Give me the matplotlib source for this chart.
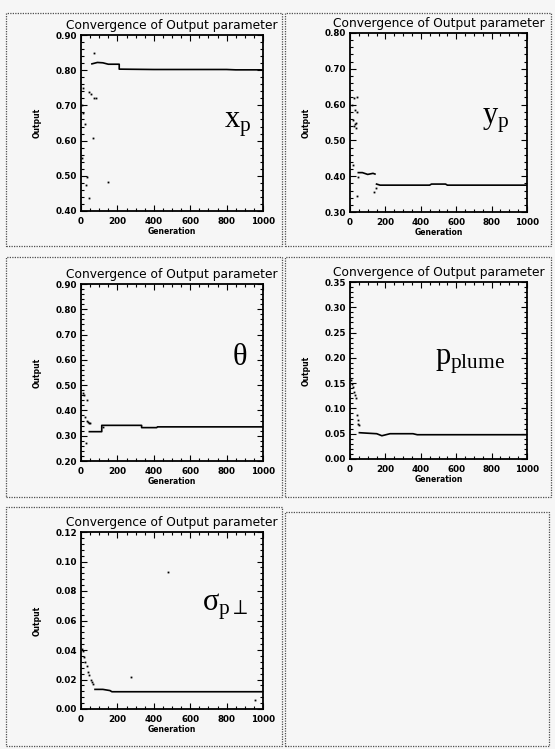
import matplotlib
matplotlib.use("Agg")
import matplotlib.pyplot as plt
import numpy as np
from matplotlib.patches import Rectangle
from matplotlib.ticker import MultipleLocator, AutoMinorLocator

# upright serif symbols like the reference labels
plt.rcParams['mathtext.fontset'] = 'custom'
plt.rcParams['mathtext.rm'] = 'Liberation Serif'
plt.rcParams['mathtext.it'] = 'Liberation Serif'
plt.rcParams['mathtext.fallback'] = 'stix'

W, H = 555, 749
BG = '#f6f6f6'
nan = np.nan

# ---- data ----
# x_p
xp_scatter_gen = [5, 8, 10, 13, 22, 26, 31, 44, 44, 53, 64, 71, 71, 82, 150]
xp_scatter_val = [0.70, 0.55, 0.678, 0.749, 0.647, 0.474, 0.497, 0.739, 0.436,
                  0.731, 0.607, 0.85, 0.72, 0.72, 0.482]
xp_line_gen = [60, 90, 120, 150, 210, 210, 400, 600, 800, 850, 1000]
xp_line_val = [0.818, 0.822, 0.821, 0.817, 0.817, 0.803, 0.802, 0.802, 0.802, 0.801, 0.801]

# y_p
yp_scatter_gen = [9, 17, 19, 23, 28, 30, 34, 38, 41, 41, 47, 136, 145, 20, 36]
yp_scatter_val = [0.599, 0.557, 0.431, 0.618, 0.585, 0.545, 0.535, 0.622, 0.58,
                  0.346, 0.397, 0.357, 0.366, 0.54, 0.55]
yp_line_gen = [47, 70, 100, 130, 141, nan, 150, 170, 200, 450, 460, 540, 550, 800, 1000]
yp_line_val = [0.41, 0.41, 0.405, 0.408, 0.406, nan, 0.378, 0.375, 0.375, 0.375, 0.378,
               0.378, 0.375, 0.375, 0.375]

# theta
th_scatter_gen = [13, 19, 22, 27, 31, 35, 40, 45, 49, 123]
th_scatter_val = [0.469, 0.46, 0.375, 0.27, 0.441, 0.36, 0.355, 0.349, 0.35, 0.336]
th_line_gen = [46, 114, 114, 333, 333, 416, 420, 1000]
th_line_val = [0.316, 0.316, 0.341, 0.341, 0.332, 0.332, 0.335, 0.335]

# p_plume
pp_scatter_gen = [6, 12, 19, 24, 28, 32, 38, 43, 47, 51]
pp_scatter_val = [0.156, 0.148, 0.143, 0.133, 0.127, 0.12, 0.087, 0.077, 0.07, 0.067]
pp_line_gen = [53, 100, 151, 180, 226, 356, 380, 1000]
pp_line_val = [0.052, 0.051, 0.050, 0.046, 0.050, 0.050, 0.048, 0.048]

# sigma_p_perp
sp_scatter_gen = [4, 9, 16, 22, 31, 40, 46, 53, 59, 68, 273, 480, 956]
sp_scatter_val = [0.041, 0.039, 0.035, 0.032, 0.029, 0.025, 0.023, 0.020, 0.018,
                  0.017, 0.022, 0.093, 0.006]
sp_line_gen = [77, 120, 159, 170, 1000]
sp_line_val = [0.0133, 0.0133, 0.0125, 0.0117, 0.0117]

panels = [
    dict(box=(81, 263, 35, 211), ylim=(0.4, 0.9), ystep=0.1,
         sg=xp_scatter_gen, sv=xp_scatter_val, lg=xp_line_gen, lv=xp_line_val,
         name=r'$x_p$', lpos=(0.86, 0.49)),
    dict(box=(350, 527, 33, 212), ylim=(0.3, 0.8), ystep=0.1,
         sg=yp_scatter_gen, sv=yp_scatter_val, lg=yp_line_gen, lv=yp_line_val,
         name=r'$y_p$', lpos=(0.82, 0.51)),
    dict(box=(81, 263, 284, 461), ylim=(0.2, 0.9), ystep=0.1,
         sg=th_scatter_gen, sv=th_scatter_val, lg=th_line_gen, lv=th_line_val,
         name=r'$\theta$', lpos=(0.87, 0.59)),
    dict(box=(350, 527, 282, 459), ylim=(0.0, 0.35), ystep=0.05,
         sg=pp_scatter_gen, sv=pp_scatter_val, lg=pp_line_gen, lv=pp_line_val,
         name=r'$p_{plume}$', lpos=(0.68, 0.55)),
    dict(box=(81, 263, 532, 709), ylim=(0.0, 0.12), ystep=0.02,
         sg=sp_scatter_gen, sv=sp_scatter_val, lg=sp_line_gen, lv=sp_line_val,
         name=r'$\sigma_{p\perp}$', lpos=(0.79, 0.58)),
]

fig = plt.figure(figsize=(W / 100, H / 100), dpi=100, facecolor=BG)

# dotted cell frames of the scanned page
cells = [(6, 282, 13, 246), (285, 551, 13, 246),
         (6, 282, 257, 497), (285, 551, 257, 497),
         (6, 282, 507, 746), (285, 549, 512, 746)]
for (l, r, t, b) in cells:
    fig.add_artist(Rectangle((l / W, 1 - b / H), (r - l) / W, (b - t) / H,
                             transform=fig.transFigure, fill=False,
                             ls=(0, (1, 1)), lw=0.9, color='0.3'))

for p in panels:
    l, r, t, b = p['box']
    ax = fig.add_axes([l / W, 1 - b / H, (r - l) / W, (b - t) / H])
    ax.set_facecolor(BG)
    ax.plot(p['sg'], p['sv'], ls='none', marker='s', ms=1.3, color='black', mew=0)
    ax.plot(p['lg'], p['lv'], color='black', lw=1.2)
    ax.set_xlim(0, 1000)
    ax.set_ylim(*p['ylim'])
    ax.xaxis.set_major_locator(MultipleLocator(200))
    ax.xaxis.set_minor_locator(AutoMinorLocator(4))
    ax.yaxis.set_major_locator(MultipleLocator(p['ystep']))
    ax.yaxis.set_minor_locator(AutoMinorLocator(5))
    ax.yaxis.set_major_formatter(plt.FormatStrFormatter('%.2f'))
    ax.tick_params(which='both', direction='in', top=True, right=True,
                   labelsize=6.3, width=0.8)
    ax.tick_params(which='major', length=4)
    ax.tick_params(which='minor', length=2)
    ax.tick_params(axis='x', pad=4)
    ax.tick_params(axis='y', pad=3)
    for lab in ax.get_xticklabels() + ax.get_yticklabels():
        lab.set_fontweight('bold')
    for s in ax.spines.values():
        s.set_linewidth(1.3)
    ax.set_title('Convergence of Output parameter', fontsize=8.8, pad=4)
    ax.set_xlabel('Generation', fontsize=5.5, fontweight='bold', labelpad=1)
    ax.set_ylabel('Output', fontsize=5.5, fontweight='bold')
    ax.yaxis.set_label_coords(-39 / (r - l), 0.5)
    ax.text(p['lpos'][0], p['lpos'][1], p['name'], transform=ax.transAxes,
            fontsize=22, ha='center', va='center')

fig.savefig('out.png', dpi=100, facecolor=BG)
